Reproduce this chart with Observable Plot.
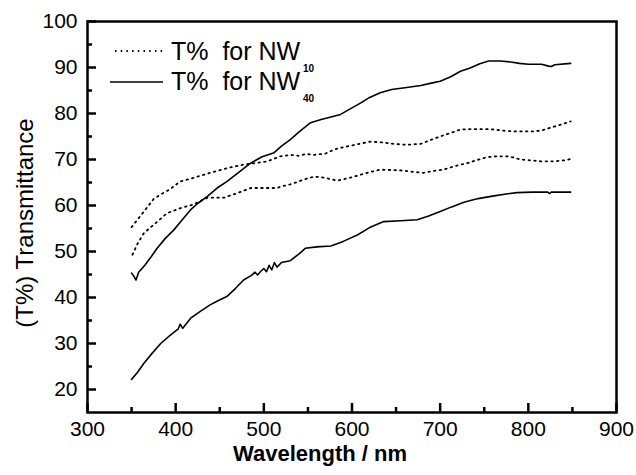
<!DOCTYPE html>
<html><head><meta charset="utf-8">
<script src="https://cdn.jsdelivr.net/npm/d3@7"></script>
<script src="https://cdn.jsdelivr.net/npm/@observablehq/plot@0.6"></script>
<style>
body{margin:0;background:#fff;}
#wrap{width:636px;height:475px;background:#fff;}
</style></head><body><div id="wrap"></div>
<script>
// NW40 upper (solid)
const xA=[350,353,355,358,365,372,379,388,398,407,417,426,436,447,458,470,485,498,511,520,530,540,553,565,575,587,598,610,620,632,645,660,678,690,700,712,723,734,745,755,768,780,790,800,815,823,826,830,848];
const yA=[45.3,44.5,43.8,45.5,47,48.8,50.7,52.8,54.7,56.8,59.1,60.6,62,63.8,65.2,67,69.2,70.6,71.4,72.9,74.3,76,78,78.7,79.2,79.8,81,82.3,83.5,84.5,85.2,85.6,86.1,86.6,87,88,89.2,89.9,90.8,91.4,91.4,91.2,90.9,90.7,90.7,90.3,90.2,90.6,90.9];
// NW40 lower (solid)
const xB=[350,357,364,373,383,394,403,405,408,417,428,439,448,458,468,477,486,490,493,496,500,503,506,509,512,515,520,530,540,547,560,576,590,606,620,636,655,674,687,700,713,727,743,761,775,787,805,822,824,826,848];
const yB=[22.2,23.8,25.7,27.8,30,31.8,33.2,34.2,33.3,35.5,37,38.4,39.3,40.2,42,43.8,44.8,45.5,44.9,45.6,46.3,45.6,47,46,47.6,46.6,47.6,48,49.5,50.7,51,51.2,52.2,53.6,55.2,56.5,56.7,56.9,57.7,58.7,59.7,60.7,61.5,62.1,62.5,62.8,62.9,62.9,62.6,62.9,62.9];
// NW10 upper (dotted)
const xC=[350,357,364,375,384,394,405,420,439,458,477,490,504,519,530,540,548,557,570,580,591,606,621,635,647,662,678,690,700,712,723,734,757,770,784,806,815,825,837,848];
const yC=[55.3,57,58.7,61.4,62.5,63.6,65.2,66,67.1,68.1,68.9,69.2,69.6,70.7,71,70.8,71.2,71,71.3,72.2,72.7,73.3,73.9,73.7,73.4,73.2,73.4,74.3,75,75.8,76.5,76.6,76.6,76.3,76.1,76.1,76.3,76.9,77.6,78.3];
// NW10 lower (dotted)
const xD=[351,357,364,375,390,405,420,436,455,470,485,500,515,519,530,545,557,570,583,597,610,621,632,645,658,670,681,692,704,714,723,731,742,753,765,776,784,791,803,814,830,840,848];
const yD=[49.3,51.8,54,55.8,58.3,59.4,60.2,61.7,61.7,62.7,63.8,63.8,63.8,64.1,64.6,65.6,66.3,66,65.4,66,66.7,67.3,67.8,67.7,67.6,67.3,67.1,67.5,67.8,68.4,68.9,69.2,69.9,70.5,70.7,70.7,70.4,70,69.8,69.6,69.6,69.8,70.1];

const xMajor=[300,400,500,600,700,800,900];
const xMinor=[350,450,550,650,750,850];
const yMajor=[20,30,40,50,60,70,80,90,100];
const yMinor=[25,35,45,55,65,75,85,95];

const legendLabels=["T%  for NW","T%  for NW"];
const legendSubs=["10","40"];

const toRows=(name,xs,ys)=>xs.map((x,i)=>({series:name,x,y:ys[i]}));
const solidRows=[...toRows("A",xA,yA),...toRows("B",xB,yB)];
const dottedRows=[...toRows("C",xC,yC),...toRows("D",xD,yD)];

const W=636,H=475,mL=87,mR=20,mT=21,mB=63;
const fw=W-mL-mR, fh=H-mT-mB;
const X0=300,X1=900,Y0=15,Y1=100;
const FONT="'Liberation Sans',Arial,sans-serif";

const plot=Plot.plot({
  width:W,height:H,marginLeft:mL,marginRight:mR,marginTop:mT,marginBottom:mB,
  style:{fontFamily:FONT,fontSize:"21px",background:"#fff",color:"#000"},
  x:{domain:[X0,X1]},
  y:{domain:[Y0,Y1]},
  marks:[
    Plot.axisX({ticks:xMajor,tickSize:0,tickPadding:9,label:null,fontSize:21,tickFormat:d=>String(d)}),
    Plot.axisY({ticks:yMajor,tickSize:0,tickPadding:10,label:null,fontSize:21,tickFormat:d=>String(d)}),
    Plot.line(dottedRows,{x:"x",y:"y",z:"series",stroke:"#000",strokeWidth:1.8,strokeDasharray:"1.5,4.2"}),
    Plot.line(solidRows,{x:"x",y:"y",z:"series",stroke:"#000",strokeWidth:1.6}),
    Plot.frame({stroke:"#000",strokeWidth:2.5}),
    Plot.tickX(xMajor,{x:d=>d,insetTop:fh-9,stroke:"#000",strokeWidth:2.5}),
    Plot.tickX(xMinor,{x:d=>d,insetTop:fh-5,stroke:"#000",strokeWidth:2.5}),
    Plot.tickY(yMajor,{y:d=>d,insetRight:fw-9,stroke:"#000",strokeWidth:2.5}),
    Plot.tickY(yMinor,{y:d=>d,insetRight:fw-5,stroke:"#000",strokeWidth:2.5}),
    Plot.text(["(T%) Transmittance"],{frameAnchor:"left",textAnchor:"middle",dx:-62,dy:6,rotate:-90,fontSize:24,fill:"#000"}),
    Plot.text(["Wavelength / nm"],{frameAnchor:"bottom",textAnchor:"middle",dx:-32,dy:48,fontSize:22,fontWeight:"900",fill:"#000"})
  ]
});
document.getElementById("wrap").appendChild(plot);

// legend drawn inside the same SVG
const g=d3.select(plot).append("g").attr("aria-label","legend").attr("text-anchor","start");
const rows=[{y:51,base:60,dash:"1.5,4.2",x1:115,x2:163},{y:82,base:90,dash:null,x1:110,x2:163}];
rows.forEach((r,i)=>{
  const l=g.append("line").attr("x1",r.x1).attr("x2",r.x2).attr("y1",r.y).attr("y2",r.y)
    .attr("stroke","#000").attr("stroke-width",r.dash?1.8:1.6);
  if(r.dash)l.attr("stroke-dasharray",r.dash);
  g.append("text").attr("x",171).attr("y",r.base).attr("font-size",25).attr("font-family",FONT)
    .attr("text-anchor","start").style("white-space","pre").attr("fill","#000").text(legendLabels[i]);
  g.append("text").attr("x",303).attr("y",r.base+12).attr("font-size",10).attr("font-weight","bold")
    .attr("text-anchor","start").attr("font-family",FONT).attr("fill","#000").text(legendSubs[i]);
});
</script></body></html>
